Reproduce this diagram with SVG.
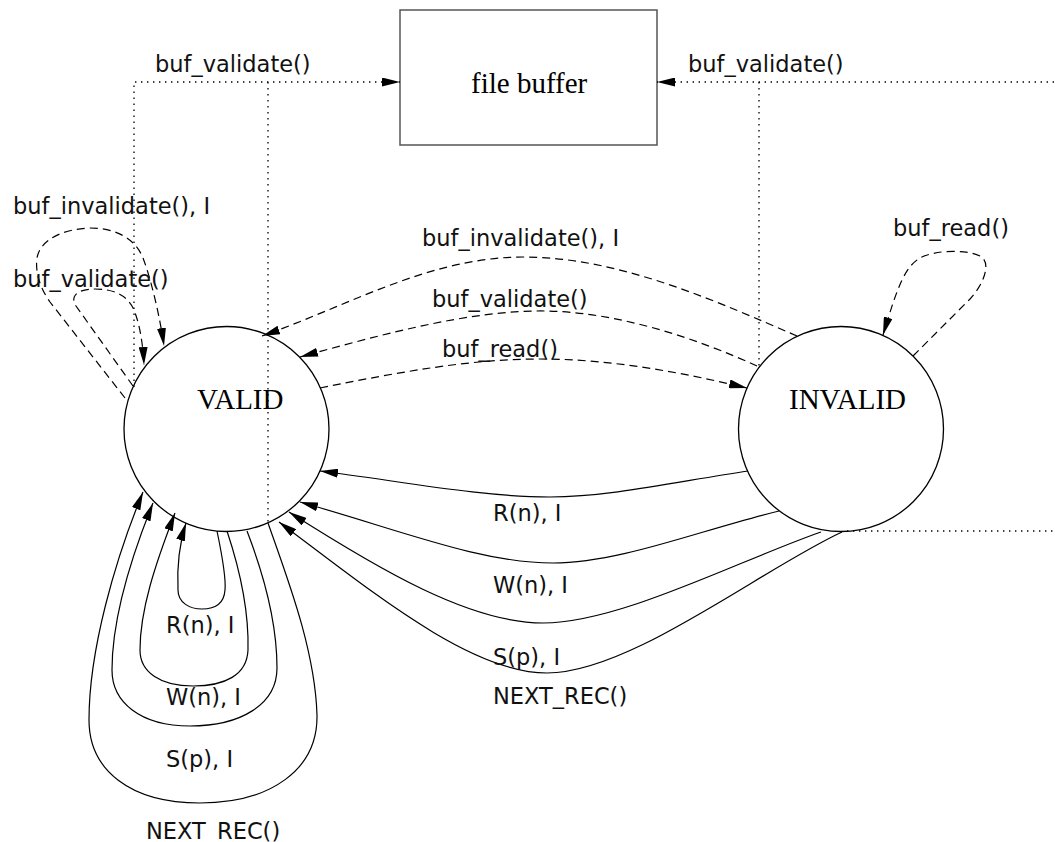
<svg xmlns="http://www.w3.org/2000/svg" width="1055" height="842" viewBox="0 0 1055 842">
  <style>
    .state { fill: none; stroke: #000; stroke-width: 1.3; }
    .box { fill: none; stroke: #555; stroke-width: 1.5; }
    .name { font-family: "Liberation Serif", "Times New Roman", serif; font-size: 29px; fill: #000; }
    .lbl { font-family: "DejaVu Sans", "Liberation Sans", sans-serif; font-size: 22.5px; fill: #111; }
    .solid { fill: none; stroke: #000; stroke-width: 1.2; }
    .dash { fill: none; stroke: #000; stroke-width: 1.2; stroke-dasharray: 8 5; }
    .dot { fill: none; stroke: #000; stroke-width: 1.3; stroke-dasharray: 1.4 4.6; }
  </style>
  <defs>
    <marker id="ah" markerUnits="userSpaceOnUse" viewBox="0 0 18 9" markerWidth="18" markerHeight="9" refX="18" refY="4.5" orient="auto">
      <path d="M0,0 L18,4.5 L0,9 z" fill="#000"/>
    </marker>
  </defs>

  <rect width="1055" height="842" fill="#fff"/>

  <!-- states and the buffer -->
  <g id="node-file-buffer">
    <rect class="box" x="400" y="10" width="257" height="135"/>
    <text class="name" x="471" y="93">file buffer</text>
  </g>
  <g id="node-valid">
    <circle class="state" cx="226.5" cy="429" r="102.5"/>
    <text class="name" x="197" y="409">VALID</text>
  </g>
  <g id="node-invalid">
    <circle class="state" cx="841" cy="429" r="102.5"/>
    <text class="name" x="789" y="409">INVALID</text>
  </g>

  <g id="connectors">
    <!-- dotted: validation calls into the file buffer -->
    <path class="dot" d="M134,387 L134,82 L400,82" marker-end="url(#ah)"/>
    <path class="dot" d="M268,82 L268,522"/>
    <path class="dot" d="M1060,82 L657,82" marker-end="url(#ah)"/>
    <path class="dot" d="M759,82 L759,367"/>
    <path class="dot" d="M847,531 L1060,531"/>

    <!-- dashed: buffer operations -->
    <path class="dash" d="M797,336 C 720,303 620,257 524,257 C 430,257 350,305 262,336" marker-end="url(#ah)"/>
    <path class="dash" d="M757,366 C 700,340 620,312 545,311 C 470,310 380,335 300,357" marker-end="url(#ah)"/>
    <path class="dash" d="M320,388 C 400,372 470,359 540,359 C 610,359 680,372 747,388" marker-end="url(#ah)"/>
    <path class="dash" d="M125,398 L50,302 C 40,288 35,272 37,258 C 40,240 62,229 90,228 C 115,228 135,238 143,258 C 152,282 160,318 164,346" marker-end="url(#ah)"/>
    <path class="dash" d="M133,386 L76,306 C 70,297 76,289 95,289 C 115,289 128,296 134,310 C 140,325 143,345 144,365" marker-end="url(#ah)"/>
    <path class="dash" d="M913,356 L970,299 C 984,284 992,262 980,256 C 965,249 935,250 920,258 C 905,267 898,285 883,335" marker-end="url(#ah)"/>

    <!-- solid: record operations from INVALID -->
    <path class="solid" d="M748,471 C 680,481 610,497 550,497 C 480,497 400,481 320,471" marker-end="url(#ah)"/>
    <path class="solid" d="M779,511 C 700,530 620,563 553,563 C 480,563 400,530 300,502" marker-end="url(#ah)"/>
    <path class="solid" d="M821,532 C 740,560 620,623 543,623 C 470,623 380,570 289,512" marker-end="url(#ah)"/>
    <path class="solid" d="M842,532 C 760,570 630,673 547,673 C 470,673 370,590 279,522" marker-end="url(#ah)"/>

    <!-- solid: record operations looping on VALID -->
    <path class="solid" d="M217,531 C 222,555 226,580 225,590 C 224,604 214,609 202,609 C 190,609 178,603 178,590 C 177,570 179,545 186,523" marker-end="url(#ah)"/>
    <path class="solid" d="M227,531 C 240,570 249,610 248,650 C 247,675 225,686 193,686 C 160,686 140,672 140,650 C 140,610 155,565 175,513" marker-end="url(#ah)"/>
    <path class="solid" d="M247,531 C 262,570 277,620 277,668 C 277,705 240,726 190,726 C 140,726 112,702 112,670 C 112,620 130,560 153,503" marker-end="url(#ah)"/>
    <path class="solid" d="M268,523 C 288,580 315,650 317,715 C 318,770 270,803 200,803 C 130,803 89,770 89,720 C 89,650 115,560 143,492" marker-end="url(#ah)"/>
  </g>

  <g id="labels">
    <text class="lbl" x="155" y="72">buf_validate()</text>
    <text class="lbl" x="688" y="72">buf_validate()</text>
    <text class="lbl" x="13" y="214">buf_invalidate(), I</text>
    <text class="lbl" x="13" y="287">buf_validate()</text>
    <text class="lbl" x="422" y="246">buf_invalidate(), I</text>
    <text class="lbl" x="432" y="307">buf_validate()</text>
    <text class="lbl" x="442" y="357">buf_read()</text>
    <text class="lbl" x="893" y="236">buf_read()</text>
    <text class="lbl" x="493" y="521">R(n), I</text>
    <text class="lbl" x="493" y="593">W(n), I</text>
    <text class="lbl" x="493" y="665">S(p), I</text>
    <text class="lbl" x="493" y="704">NEXT_REC()</text>
    <text class="lbl" x="166" y="633">R(n), I</text>
    <text class="lbl" x="166" y="705">W(n), I</text>
    <text class="lbl" x="166" y="767">S(p), I</text>
    <text class="lbl" x="146" y="838.5">NEXT_REC()</text>
  </g>
</svg>
